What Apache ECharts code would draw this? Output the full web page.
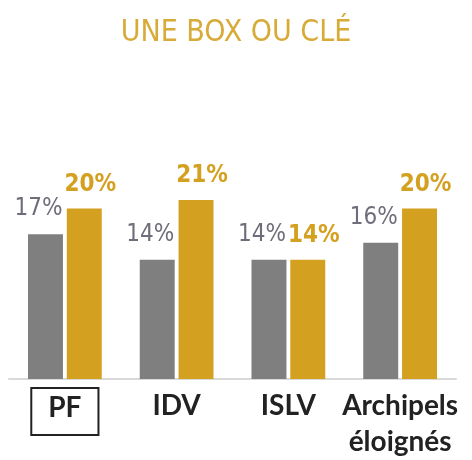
<!DOCTYPE html>
<html>
	<head>
		<meta charset="utf-8">
		<title></title>
		<script src="https://cdn.jsdelivr.net/npm/echarts@6/dist/echarts.min.js"></script>
	</head>
	<body style="margin: 0;">
		<div id="main" style="width: 472px; height: 460px;"></div>
		<script type="text/javascript">
			var categories = ['PF', 'IDV', 'ISLV', 'Archipels\néloignés'];
			var grayValues = [17, 14, 14, 16];
			var goldValues = [20, 21, 14, 20];

			var narrow = "'Liberation Sans Narrow', 'DejaVu Sans Condensed', sans-serif";

			// PF est encadré
			var categoryItems = categories.map(function (c) {
			  if (c !== 'PF') return c;
			  return {
			    value: c,
			    textStyle: {
			      borderColor: '#222',
			      borderWidth: 2,
			      lineHeight: 28,
			      padding: [6, 17, 13, 17]
			    }
			  };
			});

			var myChart = echarts.init(document.getElementById("main"));
			var option = {
			  title: {
			    text: 'UNE BOX OU CLÉ',
			    left: 'center',
			    top: 13,
			    textStyle: {
			      fontFamily: narrow,
			      fontSize: 30,
			      fontWeight: 'normal',
			      color: '#D8AA38'
			    }
			  },
			  grid: { left: 9, right: 16, top: 166, bottom: 80 },
			  xAxis: {
			    type: 'category',
			    data: categoryItems,
			    axisLine: { lineStyle: { color: '#D9D9D9', width: 2 } },
			    axisTick: { show: false },
			    axisLabel: {
			      interval: 0,
			      margin: 9,
			      fontFamily: 'Lato',
			      fontWeight: 'bold',
			      fontSize: 28,
			      color: '#222',
			      lineHeight: 36
			    }
			  },
			  yAxis: {
			    type: 'value',
			    min: 0,
			    max: 25,
			    show: false
			  },
			  series: [
			    {
			      type: 'bar',
			      data: grayValues,
			      barGap: '11%',
			      barCategoryGap: '34%',
			      itemStyle: { color: '#7F7F7F' },
			      label: {
			        show: true,
			        position: 'top',
			        offset: [-7, -8],
			        formatter: '{c}%',
			        fontFamily: narrow,
			        fontSize: 24,
			        color: '#6E6E7A'
			      }
			    },
			    {
			      type: 'bar',
			      data: goldValues,
			      itemStyle: { color: '#D4A020' },
			      label: {
			        show: true,
			        position: 'top',
			        offset: [6, -7],
			        formatter: '{c}%',
			        fontFamily: narrow,
			        fontWeight: 'bold',
			        fontSize: 24,
			        color: '#D4A020'
			      }
			    }
			  ]
			};
			myChart.setOption(option);
		</script>
	</body>
</html>
